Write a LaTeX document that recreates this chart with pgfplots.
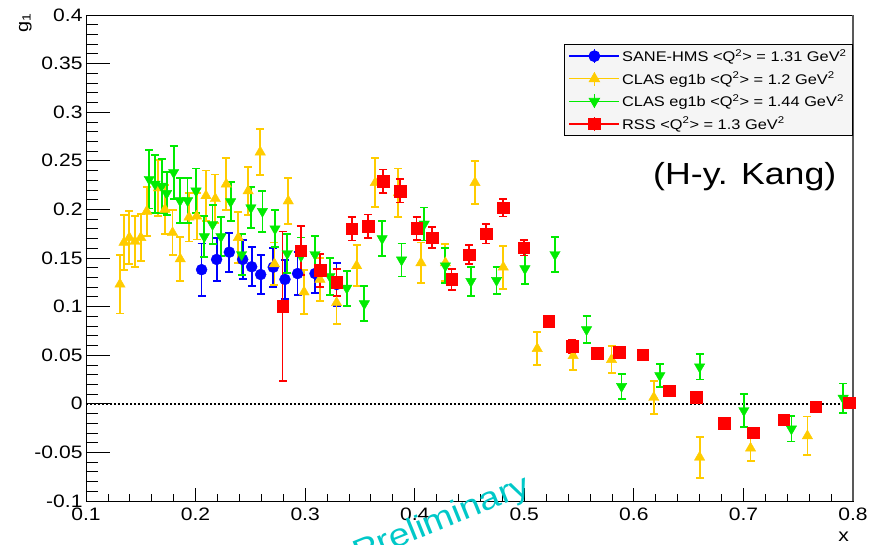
\documentclass[border=0pt]{standalone}
\usepackage{pgfplots}
\pgfplotsset{compat=1.18}
\usepackage{pgfplotstable}
\usepackage{fontspec}
\setmainfont{Liberation Sans}[FakeStretch=1.17]

\definecolor{saneblue}{RGB}{0,0,255}
\definecolor{clasyellow}{RGB}{255,204,0}
\definecolor{clasgreen}{RGB}{0,235,0}
\definecolor{rssred}{RGB}{255,0,0}
\definecolor{prelim}{RGB}{0,200,200}

% g1 data: x, g1, statistical error
\pgfplotstableread{
x      y       e
0.2055 0.1380  0.027
0.2192 0.1485  0.022
0.2308 0.1560  0.020
0.2430 0.1485  0.020
0.2512 0.1410  0.020
0.2594 0.1330  0.020
0.2709 0.1405  0.020
0.2816 0.1280  0.020
0.2931 0.1340  0.022
0.3090 0.1340  0.020
0.3287 0.1227  0.022
}\sanetab

\pgfplotstableread{
x      y       e
0.1310 0.1230  0.030
0.1347 0.1660  0.028
0.1395 0.1710  0.027
0.1447 0.1670  0.026
0.1500 0.1710  0.024
0.1554 0.1980  0.025
0.1660 0.2220  0.029
0.1720 0.2000  0.025
0.1790 0.1760  0.023
0.1860 0.1490  0.023
0.1940 0.1920  0.025
0.2010 0.1930  0.024
0.2095 0.2140  0.026
0.2180 0.2110  0.025
0.2280 0.2260  0.027
0.2390 0.1710  0.026
0.2480 0.2190  0.025
0.2590 0.2590  0.024
0.2720 0.1440  0.022
0.2846 0.2086  0.024
0.2990 0.1150  0.023
0.3135 0.1280  0.022
0.3287 0.1040  0.022
0.3470 0.1420  0.021
0.3640 0.2275  0.025
0.3850 0.2170  0.025
0.4057 0.1450  0.021
0.4280 0.1450  0.019
0.4550 0.2275  0.022
0.4808 0.1405  0.022
0.5118 0.0567  0.017
0.5446 0.0495  0.015
0.5796 0.0454  0.014
0.6182 0.0065  0.017
0.6600 -0.0550 0.021
0.7065 -0.0457 0.013
0.7584 -0.0330 0.020
}\clasAtab

\pgfplotstableread{
x      y       e
0.1577 0.2310  0.030
0.1630 0.2260  0.030
0.1690 0.2240  0.028
0.1736 0.2165  0.022
0.1800 0.2380  0.027
0.1858 0.2090  0.023
0.1927 0.2090  0.023
0.2004 0.2190  0.023
0.2080 0.1720  0.021
0.2155 0.1845  0.020
0.2232 0.1720  0.020
0.2320 0.2080  0.020
0.2420 0.1536  0.021
0.2505 0.2017  0.021
0.2610 0.1980  0.021
0.2725 0.1800  0.019
0.2837 0.1546  0.020
0.2962 0.1520  0.019
0.3090 0.1536  0.019
0.3226 0.1310  0.019
0.3380 0.1190  0.018
0.3540 0.1030  0.018
0.3703 0.1700  0.018
0.3880 0.1480  0.017
0.4087 0.1850  0.017
0.4280 0.1420  0.018
0.4513 0.1260  0.015
0.4747 0.1270  0.014
0.5006 0.1390  0.016
0.5280 0.1536  0.018
0.5568 0.0763  0.014
0.5888 0.0179  0.013
0.6237 0.0290  0.012
0.6600 0.0380  0.013
0.7004 -0.0069 0.017
0.7438 -0.0258 0.013
0.7910 0.0058  0.015
}\clasBtab

\pgfplotstableread{
x      y       e
0.2794 0.1003  0.077
0.2959 0.1577  0.025
0.3135 0.1375  0.017
0.3287 0.1250  0.014
0.3424 0.1800  0.012
0.3576 0.1828  0.012
0.3713 0.2290  0.012
0.3865 0.2190  0.012
0.4017 0.1804  0.012
0.4160 0.1710  0.011
0.4336 0.1280  0.011
0.4497 0.1536  0.010
0.4650 0.1750  0.010
0.4808 0.2017  0.009
0.4996 0.1605  0.008
0.5224 0.0849  0.005
0.5440 0.0590  0.007
0.5665 0.0522  0.003
0.5866 0.0529  0.003
0.6079 0.0505  0.003
0.6322 0.0134  0.003
0.6571 0.0065  0.003
0.6824 -0.0199 0.004
0.7090 -0.0296 0.005
0.7368 -0.0165 0.003
0.7658 -0.0028 0.002
0.7964 0.0013  0.002
}\rsstab

\pgfplotsset{
  frame/.style={
    width=767pt, height=486pt, scale only axis,
    xmin=0.1, xmax=0.8, ymin=-0.1, ymax=0.4,
    tick align=inside,
    tick style={black, line width=0.8pt},
    /pgf/number format/assume math mode=true,
  },
  errstyle/.style={
    error bars/y dir=both,
    error bars/y explicit,
    error bars/error bar style={line width=1.8pt},
    error bars/error mark=|,
    error bars/error mark options={mark size=4pt, line width=1.8pt},
  },
}

\begin{document}
\begin{tikzpicture}
\useasboundingbox (-86pt,-43pt) rectangle (794pt,501pt);

% y axis ticks (long ticks on the left side)
\begin{axis}[frame,
  axis line style={draw=none},
  xtick=\empty,
  ytick={-0.1,-0.05,0,0.05,0.1,0.15,0.2,0.25,0.3,0.35,0.4},
  yticklabels={-0.1,-0.05,0,0.05,0.1,0.15,0.2,0.25,0.3,0.35,0.4},
  minor y tick num=4,
  ytick pos=left,
  major tick length=24pt, minor tick length=12pt,
  yticklabel style={font=\fontsize{18}{20}\selectfont},
]
\addplot[draw=none, forget plot] coordinates {(0.1,0) (0.8,0)};
\end{axis}

\begin{axis}[frame,
  clip=false,
  axis line style={black, line width=0.8pt},
  ytick=\empty,
  xtick={0.1,0.2,0.3,0.4,0.5,0.6,0.7,0.8},
  xticklabels={0.1,0.2,0.3,0.4,0.5,0.6,0.7,0.8},
  minor x tick num=4,
  xtick pos=bottom,
  major tick length=13pt, minor tick length=7pt,
  xticklabel style={font=\fontsize{18}{20}\selectfont, yshift=-3pt},
  legend cell align=left,
  legend style={at={(1,1)}, anchor=north east, yshift=-29pt,
    fill=white!96!black, draw=black, line width=0.8pt,
    font=\fontsize{14}{16}\selectfont,
    row sep=5pt, inner xsep=4pt, inner ysep=3pt},
  legend image code/.code={
    \draw[#1, line width=1.4pt, mark=none] (0pt,0pt) -- (50pt,0pt);
    \draw[#1, line width=1.4pt, mark=none] (25pt,-7pt) -- (25pt,7pt);
    \draw[#1, only marks] plot coordinates {(25pt,0pt)};
  },
]
% zero line
\addplot[black, line width=2pt, dash pattern=on 2pt off 2pt, forget plot]
  coordinates {(0.1,0) (0.8,0)};

\addplot[only marks, color=saneblue, mark=*, mark size=5.5pt,
  mark options={draw=saneblue, fill=saneblue}, errstyle]
  table[x=x, y=y, y error=e] {\sanetab};
\addlegendentry{SANE-HMS <Q\textsuperscript{2}> = 1.31 GeV\textsuperscript{2}}

\addplot[only marks, color=clasyellow, mark=triangle*, mark size=6pt,
  mark options={draw=clasyellow, fill=clasyellow}, errstyle]
  table[x=x, y=y, y error=e] {\clasAtab};
\addlegendentry{CLAS eg1b <Q\textsuperscript{2}> = 1.2 GeV\textsuperscript{2}}

\addplot[only marks, color=clasgreen, mark=triangle*, mark size=6pt,
  mark options={draw=clasgreen, fill=clasgreen, rotate=180}, errstyle]
  table[x=x, y=y, y error=e] {\clasBtab};
\addlegendentry{CLAS eg1b <Q\textsuperscript{2}> = 1.44 GeV\textsuperscript{2}}

\addplot[only marks, color=rssred, mark=square*, mark size=5.8pt,
  mark options={draw=rssred, fill=rssred}, errstyle]
  table[x=x, y=y, y error=e] {\rsstab};
\addlegendentry{RSS <Q\textsuperscript{2}> = 1.3 GeV\textsuperscript{2}}

% heavier right edge of the frame
\draw[black!65, line width=2.5pt] (rel axis cs:1,0) -- (rel axis cs:1,1);

% axis titles
\node[rotate=90, anchor=base east, font=\fontsize{17}{19}\selectfont]
  at (axis cs:0.0471,0.4052) {g\textsubscript{1}};
\node[anchor=base east, font=\fontsize{18}{20}\selectfont]
  at (axis cs:0.7995,-0.1412) {x};

% annotations
\node[anchor=base east, font=\fontsize{30.5}{34}\selectfont]
  at (axis cs:0.788,0.2258) {(H-y. Kang)};
\node[rotate=22, text=prelim, font=\fontsize{32}{36}\selectfont]
  at (axis cs:0.425,-0.12) {Preliminary};
\end{axis}
\end{tikzpicture}
\end{document}
